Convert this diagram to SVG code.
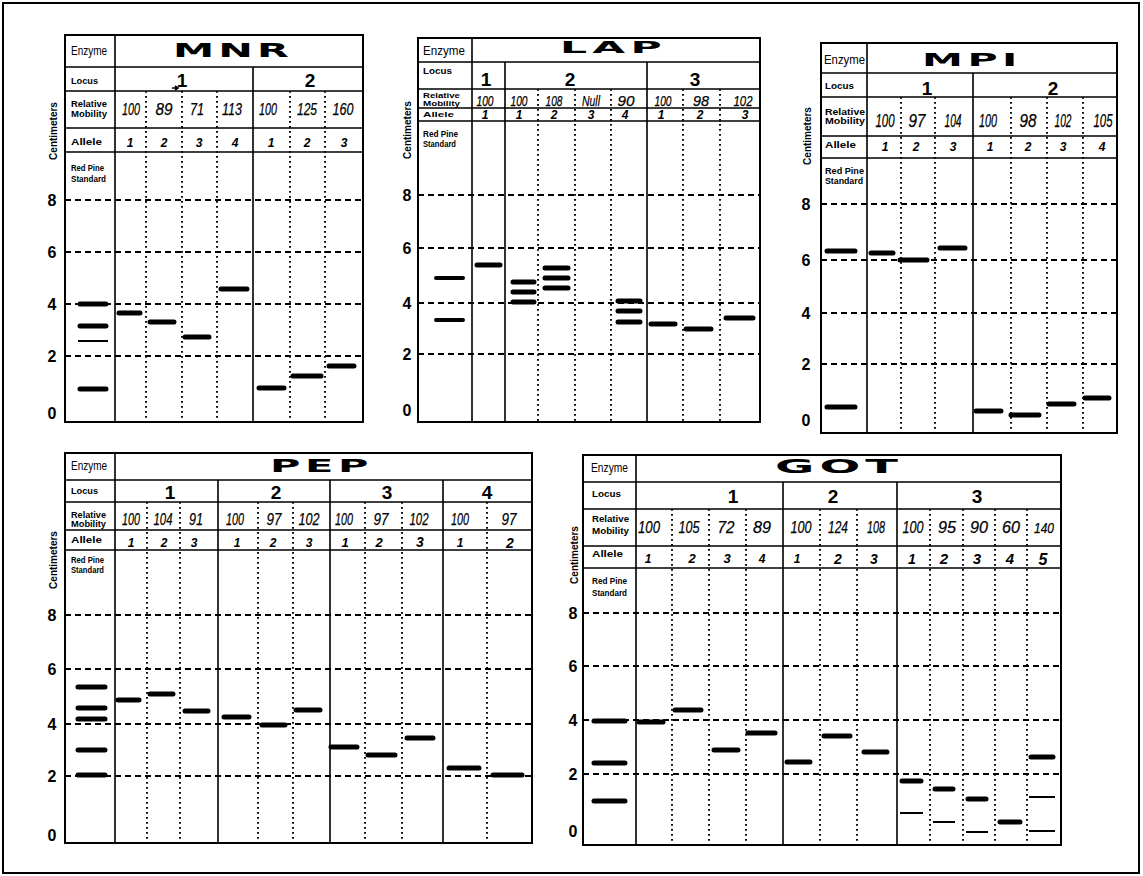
<svg xmlns="http://www.w3.org/2000/svg" width="1143" height="876" viewBox="0 0 1143 876">
<style>
.fr{fill:none;stroke:#000;stroke-width:2}
.tb{fill:#fff;stroke:#000;stroke-width:2}
.ln{fill:none;stroke:#000;stroke-width:1.6}
.ds{fill:none;stroke:#000;stroke-width:2;stroke-dasharray:6 4}
.dt{fill:none;stroke:#000;stroke-width:1.9;stroke-dasharray:1.8 3.2}
.bn{fill:none;stroke:#000;stroke-width:5;stroke-linecap:round}
.bm{fill:none;stroke:#000;stroke-width:4;stroke-linecap:round}
.bt{fill:none;stroke:#000;stroke-width:2}
text{fill:#000;font-family:"Liberation Sans",Arial,sans-serif}
.lb{font-size:8.5px;font-weight:900}
.ez{font-size:13px}
.tt{font-family:"DejaVu Sans",sans-serif;font-weight:700;font-size:20px;letter-spacing:2px}
.lc{font-size:19px;font-weight:700;text-anchor:middle}
.rm{font-size:17px;font-style:italic;text-anchor:middle;stroke:#000;stroke-width:0.25}
.al{font-size:12px;font-style:italic;font-weight:700;text-anchor:middle}
.ax{font-size:16px;font-weight:700;text-anchor:middle}
.cm{font-size:10px;font-weight:700;text-anchor:middle}
</style>
<rect class="fr" x="3" y="3" width="1136" height="870"/>

<g id="mnr">
<rect class="tb" x="65" y="35" width="298" height="387"/>
<path class="ds" d="M65 200H363M65 252H363M65 304H363M65 356H363"/>
<path class="ln" d="M115 35V422M65 67H363M65 91H363M65 128H363M65 152H363M253 67V422"/>
<path class="dt" d="M146 91V422M182 91V422M217 91V422M290 91V422M325 91V422"/>
<text class="ez" x="71" y="55" textLength="36" lengthAdjust="spacingAndGlyphs">Enzyme</text>
<text class="lb" x="71" y="84" textLength="27" lengthAdjust="spacingAndGlyphs">Locus</text>
<text class="lb" x="71" y="107" textLength="36" lengthAdjust="spacingAndGlyphs">Relative</text>
<text class="lb" x="71" y="117" textLength="36" lengthAdjust="spacingAndGlyphs">Mobility</text>
<text class="lb" x="71" y="145" textLength="31" lengthAdjust="spacingAndGlyphs">Allele</text>
<text class="lb" x="71" y="171" textLength="33" lengthAdjust="spacingAndGlyphs">Red Pine</text>
<text class="lb" x="71" y="182" textLength="35" lengthAdjust="spacingAndGlyphs">Standard</text>
<text class="tt" x="173" y="57" textLength="120" lengthAdjust="spacingAndGlyphs">MNR</text>
<text class="lc" x="182" y="87">1</text>
<text class="lc" x="310" y="87">2</text>
<text class="rm" x="131" y="115" textLength="18" lengthAdjust="spacingAndGlyphs">100</text>
<text class="rm" x="164" y="115" textLength="17" lengthAdjust="spacingAndGlyphs">89</text>
<text class="rm" x="197" y="115" textLength="14" lengthAdjust="spacingAndGlyphs">71</text>
<text class="rm" x="232" y="115" textLength="20" lengthAdjust="spacingAndGlyphs">113</text>
<text class="rm" x="268" y="115" textLength="18" lengthAdjust="spacingAndGlyphs">100</text>
<text class="rm" x="307" y="115" textLength="20" lengthAdjust="spacingAndGlyphs">125</text>
<text class="rm" x="343" y="115" textLength="21" lengthAdjust="spacingAndGlyphs">160</text>
<path class="ln" d="M172 88H177M175 86L178 88L175 90"/>
<text class="al" x="130" y="147">1</text>
<text class="al" x="164" y="147">2</text>
<text class="al" x="199" y="147">3</text>
<text class="al" x="235" y="147">4</text>
<text class="al" x="271" y="147">1</text>
<text class="al" x="307" y="147">2</text>
<text class="al" x="344" y="147">3</text>
<text class="ax" x="52" y="206">8</text>
<text class="ax" x="52" y="258">6</text>
<text class="ax" x="52" y="310">4</text>
<text class="ax" x="52" y="362">2</text>
<text class="ax" x="52" y="419">0</text>
<text class="cm" transform="translate(57,131) rotate(-90)">Centimeters</text>
<path class="bn" d="M80 304H106M80 326H106M80 389H106M119 313H140M150 322H174M185 337H209M221 289H247M259 388H284M293 376H321M329 366H354"/>
<path class="bt" d="M78 341H108"/>
</g>

<g id="lap">
<rect class="tb" x="418" y="38" width="342" height="384"/>
<path class="ds" d="M418 195H760M418 248H760M418 303H760M418 354H760"/>
<path class="ln" d="M472 38V422M418 62H760M418 89H760M418 108H760M418 121H760M505 62V422M647 62V422"/>
<path class="dt" d="M538 89V422M575 89V422M611 89V422M683 89V422M720 89V422"/>
<text class="ez" x="423" y="55" textLength="42" lengthAdjust="spacingAndGlyphs">Enzyme</text>
<text class="lb" x="423" y="74" textLength="29" lengthAdjust="spacingAndGlyphs">Locus</text>
<text class="lb" x="423" y="98" textLength="37" lengthAdjust="spacingAndGlyphs" style="font-size:7.5px">Relative</text>
<text class="lb" x="423" y="106" textLength="37" lengthAdjust="spacingAndGlyphs" style="font-size:7.5px">Mobility</text>
<text class="lb" x="423" y="117" textLength="31" lengthAdjust="spacingAndGlyphs" style="font-size:7.5px">Allele</text>
<text class="lb" x="423" y="137" textLength="35" lengthAdjust="spacingAndGlyphs">Red Pine</text>
<text class="lb" x="423" y="147" textLength="33" lengthAdjust="spacingAndGlyphs">Standard</text>
<text class="tt" x="560" y="53" textLength="107" lengthAdjust="spacingAndGlyphs" style="font-size:16px">LAP</text>
<text class="lc" x="486" y="86">1</text>
<text class="lc" x="570" y="86">2</text>
<text class="lc" x="695" y="86">3</text>
<text class="rm" x="485" y="106" textLength="17" lengthAdjust="spacingAndGlyphs" style="font-size:15.5px">100</text>
<text class="rm" x="519" y="106" textLength="17" lengthAdjust="spacingAndGlyphs" style="font-size:15.5px">100</text>
<text class="rm" x="554" y="106" textLength="17" lengthAdjust="spacingAndGlyphs" style="font-size:15.5px">108</text>
<text class="rm" x="591" y="106" textLength="18" lengthAdjust="spacingAndGlyphs" style="font-size:15.5px">Null</text>
<text class="rm" x="626" y="106" textLength="17" lengthAdjust="spacingAndGlyphs" style="font-size:15.5px">90</text>
<text class="rm" x="663" y="106" textLength="17" lengthAdjust="spacingAndGlyphs" style="font-size:15.5px">100</text>
<text class="rm" x="701" y="106" textLength="16" lengthAdjust="spacingAndGlyphs" style="font-size:15.5px">98</text>
<text class="rm" x="743" y="106" textLength="19" lengthAdjust="spacingAndGlyphs" style="font-size:15.5px">102</text>
<text class="al" x="485" y="119">1</text>
<text class="al" x="519" y="119">1</text>
<text class="al" x="554" y="119">2</text>
<text class="al" x="591" y="119">3</text>
<text class="al" x="625" y="119">4</text>
<text class="al" x="661" y="119">1</text>
<text class="al" x="700" y="119">2</text>
<text class="al" x="745" y="119">3</text>
<text class="ax" x="407" y="201">8</text>
<text class="ax" x="407" y="254">6</text>
<text class="ax" x="407" y="309">4</text>
<text class="ax" x="407" y="360">2</text>
<text class="ax" x="407" y="416">0</text>
<text class="cm" transform="translate(411,130) rotate(-90)">Centimeters</text>
<path class="bm" d="M436 278H463M436 320H463"/>
<path class="bn" d="M477 265H500M513 282H534M513 292H534M513 302H534M545 268H568M545 278H568M545 288H568M618 301H640M618 311H640M618 322H640M651 324H675M686 329H711M726 318H753"/>
</g>

<g id="mpi">
<rect class="tb" x="821" y="43" width="296" height="390"/>
<path class="ds" d="M821 204H1117M821 260H1117M821 313H1117M821 364H1117"/>
<path class="ln" d="M867 43V433M821 73H1117M821 97H1117M821 136H1117M821 158H1117M973 73V433"/>
<path class="dt" d="M901 97V433M935 97V433M1011 97V433M1047 97V433M1083 97V433"/>
<text class="ez" x="824" y="64" textLength="41" lengthAdjust="spacingAndGlyphs">Enzyme</text>
<text class="lb" x="825" y="89" textLength="29" lengthAdjust="spacingAndGlyphs">Locus</text>
<text class="lb" x="825" y="115" textLength="40" lengthAdjust="spacingAndGlyphs">Relative</text>
<text class="lb" x="825" y="124" textLength="40" lengthAdjust="spacingAndGlyphs">Mobility</text>
<text class="lb" x="825" y="148" textLength="31" lengthAdjust="spacingAndGlyphs">Allele</text>
<text class="lb" x="825" y="174" textLength="39" lengthAdjust="spacingAndGlyphs">Red Pine</text>
<text class="lb" x="825" y="184" textLength="38" lengthAdjust="spacingAndGlyphs">Standard</text>
<text class="tt" x="922" y="66" textLength="100" lengthAdjust="spacingAndGlyphs" style="font-size:18px">MPI</text>
<text class="lc" x="927" y="95">1</text>
<text class="lc" x="1053" y="95">2</text>
<text class="rm" x="885" y="127" textLength="19" lengthAdjust="spacingAndGlyphs" style="font-size:18px">100</text>
<text class="rm" x="917" y="127" textLength="17" lengthAdjust="spacingAndGlyphs" style="font-size:18px">97</text>
<text class="rm" x="953" y="127" textLength="17" lengthAdjust="spacingAndGlyphs" style="font-size:18px">104</text>
<text class="rm" x="988" y="127" textLength="18" lengthAdjust="spacingAndGlyphs" style="font-size:18px">100</text>
<text class="rm" x="1028" y="127" textLength="17" lengthAdjust="spacingAndGlyphs" style="font-size:18px">98</text>
<text class="rm" x="1063" y="127" textLength="17" lengthAdjust="spacingAndGlyphs" style="font-size:18px">102</text>
<text class="rm" x="1103" y="127" textLength="19" lengthAdjust="spacingAndGlyphs" style="font-size:18px">105</text>
<text class="al" x="885" y="151">1</text>
<text class="al" x="916" y="151">2</text>
<text class="al" x="953" y="151">3</text>
<text class="al" x="990" y="151">1</text>
<text class="al" x="1028" y="151">2</text>
<text class="al" x="1063" y="151">3</text>
<text class="al" x="1102" y="151">4</text>
<text class="ax" x="806" y="210">8</text>
<text class="ax" x="806" y="266">6</text>
<text class="ax" x="806" y="319">4</text>
<text class="ax" x="806" y="370">2</text>
<text class="ax" x="806" y="426">0</text>
<text class="cm" transform="translate(811,136) rotate(-90)">Centimeters</text>
<path class="bn" d="M827 251H855M827 407H855M871 253H893M900 260H927M940 248H965M976 411H1001M1011 415H1039M1049 404H1074M1085 398H1109"/>
</g>

<g id="pep">
<rect class="tb" x="65" y="453" width="467" height="390"/>
<path class="ds" d="M65 615H532M65 669H532M65 724H532M65 776H532"/>
<path class="ln" d="M115 453V843M65 480H532M65 502H532M65 530H532M65 550H532M218 480V843M330 480V843M443 480V843"/>
<path class="dt" d="M147 502V843M180 502V843M258 502V843M293 502V843M365 502V843M402 502V843M487 502V843"/>
<text class="ez" x="71" y="470" textLength="36" lengthAdjust="spacingAndGlyphs">Enzyme</text>
<text class="lb" x="71" y="494" textLength="27" lengthAdjust="spacingAndGlyphs">Locus</text>
<text class="lb" x="71" y="518" textLength="35" lengthAdjust="spacingAndGlyphs">Relative</text>
<text class="lb" x="71" y="527" textLength="35" lengthAdjust="spacingAndGlyphs">Mobility</text>
<text class="lb" x="71" y="543" textLength="31" lengthAdjust="spacingAndGlyphs">Allele</text>
<text class="lb" x="71" y="563" textLength="33" lengthAdjust="spacingAndGlyphs">Red Pine</text>
<text class="lb" x="71" y="573" textLength="33" lengthAdjust="spacingAndGlyphs">Standard</text>
<text class="tt" x="270" y="472" textLength="103" lengthAdjust="spacingAndGlyphs" style="font-size:18px">PEP</text>
<text class="lc" x="170" y="499">1</text>
<text class="lc" x="276" y="499">2</text>
<text class="lc" x="387" y="499">3</text>
<text class="lc" x="487" y="499">4</text>
<text class="rm" x="131" y="525" textLength="18" lengthAdjust="spacingAndGlyphs">100</text>
<text class="rm" x="163" y="525" textLength="19" lengthAdjust="spacingAndGlyphs">104</text>
<text class="rm" x="196" y="525" textLength="14" lengthAdjust="spacingAndGlyphs">91</text>
<text class="rm" x="235" y="525" textLength="18" lengthAdjust="spacingAndGlyphs">100</text>
<text class="rm" x="274" y="525" textLength="15" lengthAdjust="spacingAndGlyphs">97</text>
<text class="rm" x="309" y="525" textLength="21" lengthAdjust="spacingAndGlyphs">102</text>
<text class="rm" x="344" y="525" textLength="18" lengthAdjust="spacingAndGlyphs">100</text>
<text class="rm" x="381" y="525" textLength="15" lengthAdjust="spacingAndGlyphs">97</text>
<text class="rm" x="419" y="525" textLength="19" lengthAdjust="spacingAndGlyphs">102</text>
<text class="rm" x="460" y="525" textLength="18" lengthAdjust="spacingAndGlyphs">100</text>
<text class="rm" x="509" y="525" textLength="15" lengthAdjust="spacingAndGlyphs">97</text>
<text class="al" x="131" y="547">1</text>
<text class="al" x="164" y="547">2</text>
<text class="al" x="194" y="547">3</text>
<text class="al" x="237" y="547">1</text>
<text class="al" x="273" y="547">2</text>
<text class="al" x="309" y="547">3</text>
<text class="al" x="345" y="547" style="font-size:13px">1</text>
<text class="al" x="379" y="547" style="font-size:13px">2</text>
<text class="al" x="420" y="547" style="font-size:14px">3</text>
<text class="al" x="460" y="547">1</text>
<text class="al" x="510" y="548" style="font-size:14px">2</text>
<text class="ax" x="52" y="621">8</text>
<text class="ax" x="52" y="675">6</text>
<text class="ax" x="52" y="730">4</text>
<text class="ax" x="52" y="782">2</text>
<text class="ax" x="52" y="841">0</text>
<text class="cm" transform="translate(57,560) rotate(-90)">Centimeters</text>
<path class="bn" d="M78 687H105M78 708H105M78 719H105M78 750H105M78 775H105M118 700H139M150 694H173M185 711H208M224 717H249M262 725H285M296 710H320M331 747H357M368 755H395M407 738H433M449 768H479M493 775H522"/>
</g>

<g id="got">
<rect class="tb" x="583" y="455" width="478" height="390"/>
<path class="ds" d="M583 613H1061M583 666H1061M583 720H1061M583 774H1061"/>
<path class="ln" d="M636 455V845M583 482H1061M583 509H1061M583 546H1061M583 568H1061M783 482V845M897 482V845"/>
<path class="dt" d="M672 509V845M709 509V845M746 509V845M820 509V845M857 509V845M930 509V845M963 509V845M995 509V845M1027 509V845"/>
<text class="ez" x="591" y="472" textLength="37" lengthAdjust="spacingAndGlyphs">Enzyme</text>
<text class="lb" x="592" y="497" textLength="29" lengthAdjust="spacingAndGlyphs">Locus</text>
<text class="lb" x="592" y="522" textLength="37" lengthAdjust="spacingAndGlyphs">Relative</text>
<text class="lb" x="592" y="534" textLength="37" lengthAdjust="spacingAndGlyphs">Mobility</text>
<text class="lb" x="592" y="557" textLength="31" lengthAdjust="spacingAndGlyphs">Allele</text>
<text class="lb" x="592" y="584" textLength="35" lengthAdjust="spacingAndGlyphs">Red Pine</text>
<text class="lb" x="592" y="596" textLength="35" lengthAdjust="spacingAndGlyphs">Standard</text>
<text class="tt" x="775" y="473" textLength="128" lengthAdjust="spacingAndGlyphs" style="font-size:19px">GOT</text>
<text class="lc" x="733" y="503">1</text>
<text class="lc" x="833" y="503">2</text>
<text class="lc" x="977" y="503">3</text>
<text class="rm" x="649" y="533" textLength="22" lengthAdjust="spacingAndGlyphs">100</text>
<text class="rm" x="689" y="533" textLength="21" lengthAdjust="spacingAndGlyphs">105</text>
<text class="rm" x="726" y="533" textLength="17" lengthAdjust="spacingAndGlyphs">72</text>
<text class="rm" x="762" y="533" textLength="18" lengthAdjust="spacingAndGlyphs">89</text>
<text class="rm" x="801" y="533" textLength="21" lengthAdjust="spacingAndGlyphs">100</text>
<text class="rm" x="838" y="533" textLength="20" lengthAdjust="spacingAndGlyphs">124</text>
<text class="rm" x="876" y="533" textLength="18" lengthAdjust="spacingAndGlyphs">108</text>
<text class="rm" x="913" y="533" textLength="21" lengthAdjust="spacingAndGlyphs">100</text>
<text class="rm" x="947" y="533" textLength="18" lengthAdjust="spacingAndGlyphs">95</text>
<text class="rm" x="979" y="533" textLength="18" lengthAdjust="spacingAndGlyphs">90</text>
<text class="rm" x="1011" y="533" textLength="18" lengthAdjust="spacingAndGlyphs">60</text>
<text class="rm" x="1044" y="533" textLength="20" lengthAdjust="spacingAndGlyphs" style="font-size:15px">140</text>
<text class="al" x="648" y="563">1</text>
<text class="al" x="692" y="563" style="font-size:13px">2</text>
<text class="al" x="727" y="563" style="font-size:13px">3</text>
<text class="al" x="762" y="563">4</text>
<text class="al" x="797" y="563">1</text>
<text class="al" x="838" y="564" style="font-size:14px">2</text>
<text class="al" x="874" y="564" style="font-size:14px">3</text>
<text class="al" x="912" y="564" style="font-size:14px">1</text>
<text class="al" x="944" y="564" style="font-size:15px">2</text>
<text class="al" x="977" y="564" style="font-size:15px">3</text>
<text class="al" x="1010" y="564" style="font-size:15px">4</text>
<text class="al" x="1043" y="565" style="font-size:16px">5</text>
<text class="ax" x="573" y="619">8</text>
<text class="ax" x="573" y="672">6</text>
<text class="ax" x="573" y="726">4</text>
<text class="ax" x="573" y="780">2</text>
<text class="ax" x="573" y="837">0</text>
<text class="cm" transform="translate(578,555) rotate(-90)">Centimeters</text>
<path class="bn" d="M594 721H625M594 763H625M594 801H625M639 722H663M675 710H701M714 750H738M748 733H775M787 762H810M824 736H850M864 752H887M902 781H921M935 789H953M968 799H986M1000 822H1020M1031 757H1053"/>
<path class="bt" d="M900 813H923M933 822H955M966 832H988M1029 797H1055M1029 831H1055"/>
</g>
</svg>
